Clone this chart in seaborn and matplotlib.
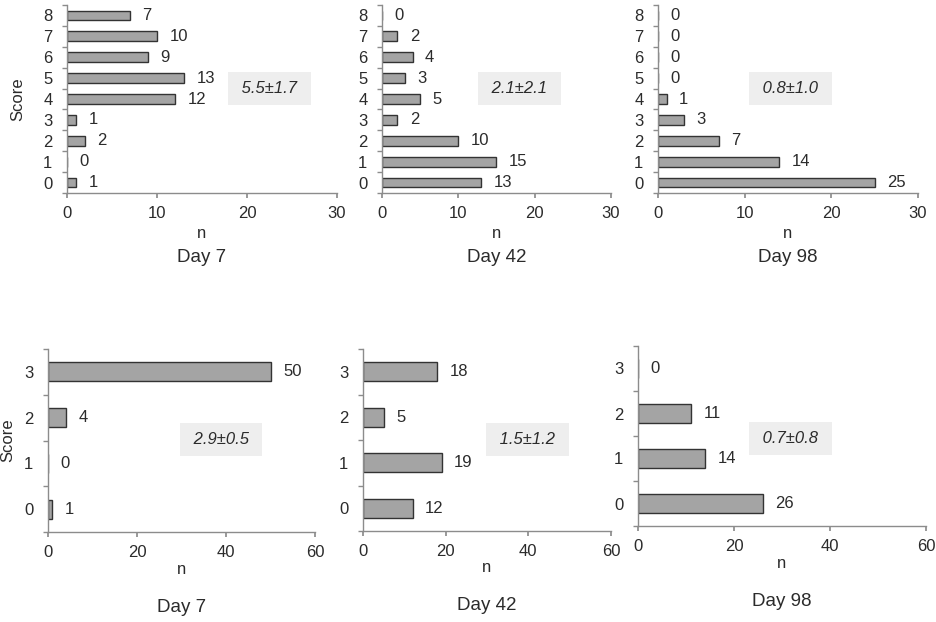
import matplotlib
matplotlib.use("Agg")
import matplotlib.pyplot as plt
import numpy as np
import pandas as pd
import seaborn as sns

# Datos: frecuencia (n) por puntuación y día
days = ["Day 7", "Day 42", "Day 98"]

scores_top = [0, 1, 2, 3, 4, 5, 6, 7, 8]
n_top_day7 = [1, 0, 2, 1, 12, 13, 9, 10, 7]
n_top_day42 = [13, 15, 10, 2, 5, 3, 4, 2, 0]
n_top_day98 = [25, 14, 7, 3, 1, 0, 0, 0, 0]
stats_top = ["5.5±1.7", "2.1±2.1", "0.8±1.0"]

scores_bottom = [0, 1, 2, 3]
n_bottom_day7 = [1, 0, 4, 50]
n_bottom_day42 = [12, 19, 5, 18]
n_bottom_day98 = [26, 14, 11, 0]
stats_bottom = ["2.9±0.5", "1.5±1.2", "0.7±0.8"]

W, H, DPI = 937, 622, 100
BAR = "#a4a4a4"
EDGE = "#333333"
AXIS = "#8c8c8c"
TXT = "#2b2b2b"
FS = 12

sns.set_theme(style="white")
plt.rcParams["font.family"] = ["Liberation Sans", "DejaVu Sans"]

fig = plt.figure(figsize=(W / DPI, H / DPI), dpi=DPI)


def px_axes(left, right, top, bottom):
    return fig.add_axes([left / W, 1 - bottom / H, (right - left) / W, (bottom - top) / H])


def panel(ax, scores, counts, xmax, xstep, stat, stat_pos, day, bar_h,
          n_off, day_off, score_label=None):
    df = pd.DataFrame({"score": scores, "n": counts})
    order = list(reversed(scores))
    sns.barplot(data=df, x="n", y="score", orient="h", order=order,
                color=BAR, edgecolor=EDGE, linewidth=1.0, width=bar_h,
                saturation=1, ax=ax)
    for cont in ax.containers:
        ax.bar_label(cont, padding=9, fontsize=FS, color=TXT)

    k = len(scores)
    ax.set_ylim(k - 0.5, -0.5)
    ax.set_xlim(0, xmax)
    ax.set_xticks(np.arange(0, xmax + 1, xstep))
    ax.set_yticks(range(k))
    ax.set_yticklabels([str(s) for s in order])
    ax.set_yticks(np.arange(-0.5, k, 1), minor=True)
    ax.tick_params(axis="y", which="major", length=0, pad=10.5, labelsize=FS, labelcolor=TXT)
    ax.tick_params(axis="y", which="minor", left=True, length=3.5, color=AXIS, width=1)
    ax.tick_params(axis="x", which="major", bottom=True, length=3.5, color=AXIS,
                   pad=6, labelsize=FS, labelcolor=TXT)

    sns.despine(ax=ax)
    for side in ("left", "bottom"):
        ax.spines[side].set_color(AXIS)
        ax.spines[side].set_linewidth(1)
    ax.grid(False)

    ax.set_xlabel("")
    ax.set_ylabel("")
    ax.annotate("n", xy=(0.5, 0), xycoords="axes fraction", xytext=(0, -n_off),
                textcoords="offset pixels", ha="center", va="center",
                fontsize=FS, color=TXT)
    ax.annotate(day, xy=(0.5, 0), xycoords="axes fraction", xytext=(0, -day_off),
                textcoords="offset pixels", ha="center", va="center",
                fontsize=13.5, color=TXT)
    ax.text(stat_pos[0], stat_pos[1], " " + stat + " ", transform=ax.transAxes, ha="center",
            va="center", fontsize=FS, style="italic", color=TXT,
            bbox=dict(boxstyle="square,pad=0.55", fc="#eeeeee", ec="none"))
    if score_label is not None:
        ax.set_ylabel("Score", fontsize=FS, color=TXT)
        ax.yaxis.set_label_coords(*score_label)


top_boxes = [(67, 337, 5, 193), (382, 611, 5, 193), (658, 918, 5, 193)]
top_counts = [n_top_day7, n_top_day42, n_top_day98]
top_stat_pos = [(0.75, 0.555), (0.60, 0.555), (0.51, 0.555)]
for i, (box, counts) in enumerate(zip(top_boxes, top_counts)):
    ax = px_axes(*box)
    panel(ax, scores_top, counts, 30, 10, stats_top[i], top_stat_pos[i], days[i],
          0.47, 40, 64, score_label=(-0.155, 0.5) if i == 0 else None)

bottom_boxes = [(48, 315, 349, 532), (363, 611, 349, 531), (638, 926, 346, 526)]
bottom_counts = [n_bottom_day7, n_bottom_day42, n_bottom_day98]
bottom_stat_pos = [(0.648, 0.505), (0.663, 0.503), (0.528, 0.486)]
for i, (box, counts) in enumerate(zip(bottom_boxes, bottom_counts)):
    ax = px_axes(*box)
    panel(ax, scores_bottom, counts, 60, 20, stats_bottom[i], bottom_stat_pos[i], days[i],
          0.41, 37, 75, score_label=(-0.124, 0.5) if i == 0 else None)

fig.savefig("out.png", dpi=DPI)
